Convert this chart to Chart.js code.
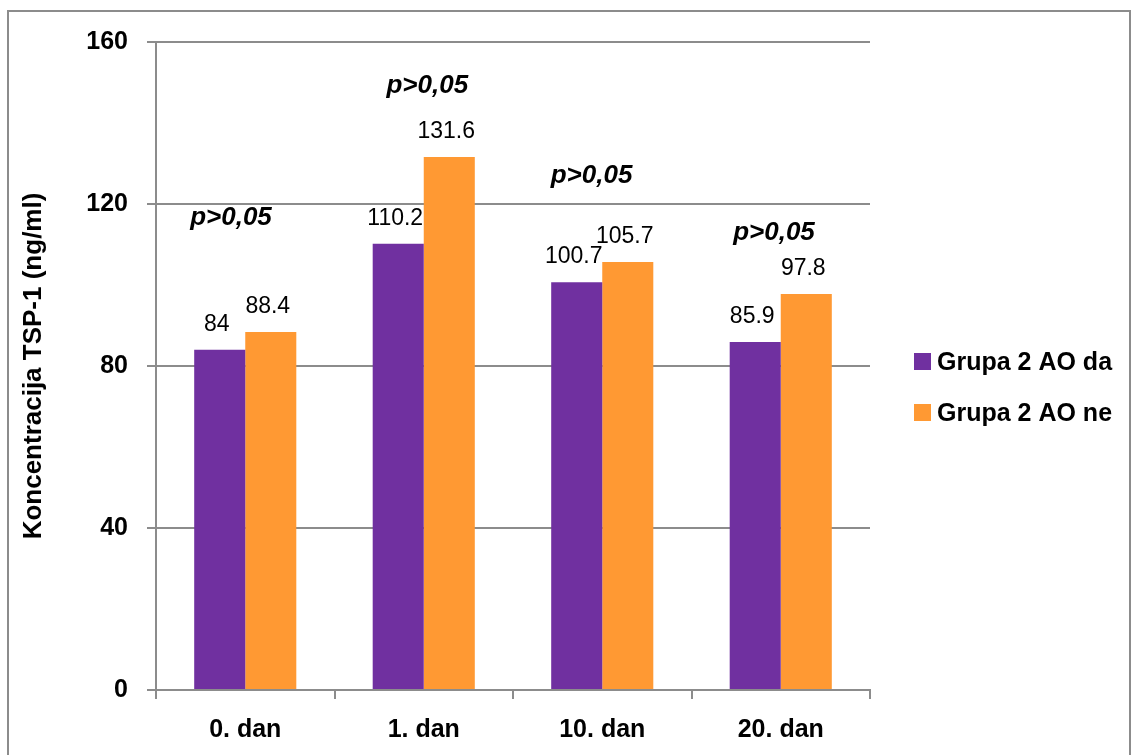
<!DOCTYPE html>
<html>
<head>
<meta charset="utf-8">
<script src="https://cdn.jsdelivr.net/npm/chart.js@4.4.0/dist/chart.umd.min.js"></script>
<style>
body{margin:0;background:#fff;}
#wrap{width:1132px;height:755px;}
</style>
</head>
<body>
<div id="wrap"><canvas id="tspChart" width="1132" height="755"></canvas></div>
<script>
const categories = ["0. dan", "1. dan", "10. dan", "20. dan"];
const seriesNames = ["Grupa 2 AO da", "Grupa 2 AO ne"];
const aoDa = [84, 110.2, 100.7, 85.9];
const aoNe = [88.4, 131.6, 105.7, 97.8];
const pValues = ["p>0,05", "p>0,05", "p>0,05", "p>0,05"];
const yTicks = [0, 40, 80, 120, 160];

const FONT = "'Liberation Sans', Arial, sans-serif";

// where the p-value notes sit: [x offset in category widths, y in axis units]
const pSpots = [[-0.08, 114.8], [0.02, 147.4], [-0.06, 125.2], [-0.038, 111.1]];

const extras = {
  id: "extras",
  beforeDraw(chart) {
    const ctx = chart.ctx;
    ctx.save();
    ctx.strokeStyle = "#8c8c8c";
    ctx.lineWidth = 2;
    ctx.strokeRect(8, 11, 1122, 800);
    ctx.restore();
  },
  afterDatasetsDraw(chart) {
    const ctx = chart.ctx;
    ctx.save();
    ctx.fillStyle = "#000";
    ctx.textAlign = "center";
    ctx.textBaseline = "alphabetic";
    ctx.font = "23px " + FONT;
    chart.data.datasets.forEach((ds, i) => {
      chart.getDatasetMeta(i).data.forEach((bar, j) => {
        ctx.fillText(String(ds.data[j]), bar.x - 3, bar.y - 19);
      });
    });

    const xs = chart.scales.x, ys = chart.scales.y;
    const band = xs.getPixelForValue(1) - xs.getPixelForValue(0);
    ctx.font = "italic bold 26px " + FONT;
    pValues.forEach((txt, j) => {
      const x = xs.getPixelForValue(j) + pSpots[j][0] * band;
      const y = ys.getPixelForValue(pSpots[j][1]);
      ctx.fillText(txt, x, y);
    });

    // legend
    ctx.textAlign = "left";
    ctx.textBaseline = "middle";
    ctx.font = "bold 25px " + FONT;
    chart.data.datasets.forEach((ds, i) => {
      const top = 353 + i * 51;
      ctx.fillStyle = ds.backgroundColor;
      ctx.fillRect(914, top, 17, 17);
      ctx.fillStyle = "#000";
      ctx.fillText(ds.label, 937, top + 10);
    });
    ctx.restore();
  }
};

new Chart(document.getElementById("tspChart"), {
  type: "bar",
  data: {
    labels: categories,
    datasets: [
      { label: seriesNames[0], data: aoDa, backgroundColor: "#7030A0" },
      { label: seriesNames[1], data: aoNe, backgroundColor: "#FF9933" }
    ]
  },
  options: {
    responsive: false,
    animation: false,
    layout: { padding: { top: 42, right: 262, left: 0, bottom: 0 } },
    datasets: { bar: { categoryPercentage: 0.572, barPercentage: 1 } },
    plugins: { legend: { display: false }, tooltip: { enabled: false } },
    scales: {
      x: {
        offset: true,
        grid: { offset: true, drawOnChartArea: false, color: "#8c8c8c", lineWidth: 2, tickLength: 9 },
        border: { color: "#8c8c8c", width: 2 },
        ticks: { color: "#000", font: { family: FONT, size: 25, weight: "bold" }, padding: 16 },
        afterFit(s) { s.height = 65; }
      },
      y: {
        min: 0,
        max: 160,
        afterBuildTicks(s) { s.ticks = yTicks.map(v => ({ value: v })); },
        grid: { color: "#8c8c8c", lineWidth: 2, tickLength: 9 },
        border: { color: "#8c8c8c", width: 2 },
        ticks: { color: "#000", font: { family: FONT, size: 25, weight: "bold" }, padding: 19 },
        title: {
          display: true,
          text: "Koncentracija TSP-1 (ng/ml)",
          color: "#000",
          font: { family: FONT, size: 26, weight: "bold" },
          padding: { top: 18, bottom: 0 }
        },
        afterFit(s) { s.width = 156; }
      }
    }
  },
  plugins: [extras]
});
</script>
</body>
</html>
